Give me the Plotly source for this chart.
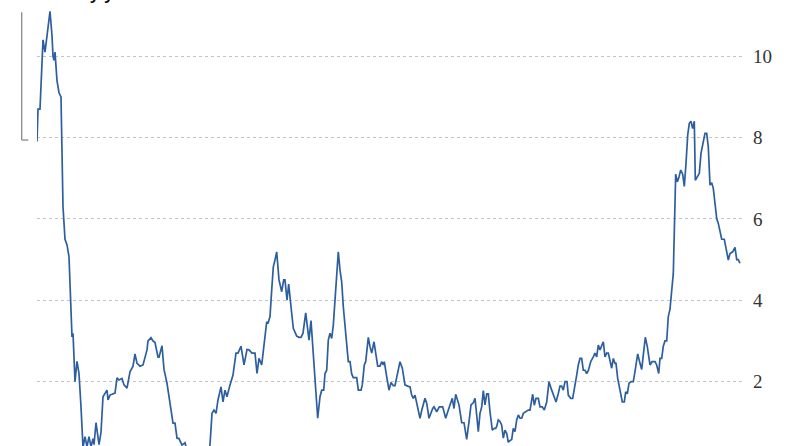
import plotly.graph_objects as go

# period index (relative time position) and inflation values (%)
period = [0, 1, 3, 5, 6, 8, 10, 11, 13, 15, 16, 17, 18, 20, 22, 24, 25, 26, 28, 30,
          32, 35, 36, 38, 40, 42, 44, 46, 48, 50, 52, 54, 56, 57, 59, 62, 64, 66, 70, 71,
          73, 78, 80, 82, 85, 87, 90, 93, 96, 98, 100, 103, 106, 110, 111, 114, 116, 118, 121, 122,
          125, 127, 130, 133, 136, 138, 140, 142, 145, 148, 150, 155, 160, 165, 170, 172, 173, 175, 177, 179,
          181, 184, 186, 188, 190, 193, 196, 199, 201, 204, 205, 207, 210, 212, 215, 218, 220, 222, 224.7, 227,
          229.7, 231, 233, 234.7, 236.3, 238, 239.7, 242, 244.7, 246.7, 248, 250, 251.7, 254, 256.3, 259.7, 262, 264, 266, 268.7,
          270.7, 272, 274, 276.3, 278, 280.7, 283, 284.7, 286.7, 288, 289.7, 291.3, 293, 294.7, 296.3, 298, 299.7, 301.3, 303, 304.7,
          306.3, 308, 309.7, 311.3, 313, 314.7, 316.3, 319.7, 321.3, 324, 325.3, 327.3, 328.7, 331.3, 333, 334.7, 337, 339, 340.7, 343,
          344.7, 346.3, 347.3, 349.7, 352, 354, 356.3, 358, 360.7, 363, 365.3, 368, 370.7, 373, 374.7, 376.3, 378, 379.7, 381.3, 383,
          384.7, 386.3, 388, 389.7, 392, 395.7, 397, 399.7, 402.3, 405.7, 408.7, 411.3, 415.3, 417, 418.7, 422, 424.7, 427, 429.7, 432.3,
          434, 436.3, 438, 439.7, 441.3, 443, 444.7, 446.3, 448, 449.7, 451.3, 453, 455.3, 457.3, 458.7, 459.7, 461.3, 463, 464.7, 466.3,
          468, 469.7, 471.3, 473, 474.7, 476.3, 478, 479.7, 481.3, 483, 484.7, 486.3, 489, 491.3, 493, 494.7, 495.7, 497.3, 499, 501.3,
          503, 505.3, 507.3, 509.7, 512, 514, 516.3, 519, 521.3, 523, 524.7, 526.3, 528, 530, 531.3, 533.7, 535.7, 537.3, 539.7, 541.3,
          543, 544.7, 546.3, 548, 549.7, 551.3, 553.7, 556.3, 558, 559.7, 561.3, 563, 564.7, 566.3, 568, 569.7, 571.3, 573, 574.7, 576.3,
          578, 579, 580.7, 583, 585.3, 587.3, 588.7, 590.3, 592, 594, 596.3, 598, 600.7, 603, 604.7, 606.3, 608.3, 610.3, 613, 615,
          618, 619.7, 621.7, 623, 624.7, 626.3, 628, 629.7, 631.3, 633, 634.7, 636.3, 638.7, 640.3, 642, 643.7, 645.7, 647.3, 649, 650.7,
          652.3, 654, 655.7, 657.3, 658.3, 660.3, 662.3, 664, 666.3, 668, 669.7, 671.3, 673, 674.7, 676.3, 678, 679.7, 681.3, 683, 684.7,
          687.3, 689, 691.3, 693, 695.7, 698, 699.7, 701.3, 703]

inflation = [7.9, 8.7, 8.7, 10.1, 10.4, 10.1, 10.5, 10.7, 11.1, 10.5, 10.0, 9.9, 10.1, 9.4, 9.1, 9.0, 7.3, 6.3, 5.5, 5.36,
             5.07, 3.1, 3.19, 2.0, 2.5, 2.2, 1.38, 0.38, 0.65, 0.4, 0.65, 0.4, 0.6, 0.45, 0.99, 0.45, 0.75, 1.63, 1.79, 1.55,
             1.67, 1.72, 2.09, 2.04, 2.08, 1.92, 1.84, 2.24, 2.38, 2.68, 2.45, 2.38, 2.41, 2.78, 3.0, 3.08, 3.0, 2.96, 2.6, 2.6,
             2.88, 2.3, 1.96, 1.47, 0.98, 0.98, 0.61, 0.6, 0.44, 0.5, 0.3, 0.1, 0.0, -0.1, 0.1, 0.3, 0.45, 1.22, 1.3, 1.22,
             1.55, 1.87, 1.5, 1.79, 1.63, 1.92, 2.16, 2.7, 2.7, 2.87, 2.73, 2.41, 2.79, 2.78, 2.7, 2.7, 2.2, 2.57, 2.41, 2.9,
             3.47, 3.43, 3.6, 4.25, 4.82, 4.99, 5.19, 4.5, 4.21, 4.5, 4.5, 4.0, 4.4, 3.84, 3.31, 3.12, 3.09, 3.09, 3.19, 3.69,
             3.35, 3.02, 3.5, 2.7, 1.87, 1.1, 1.63, 1.79, 1.79, 2.2, 2.28, 3.02, 3.19, 3.06, 3.39, 4.09, 4.58, 5.19, 4.74, 4.45,
             3.84, 3.35, 3.02, 2.49, 2.49, 2.19, 2.1, 2.1, 1.79, 1.79, 1.92, 2.41, 2.49, 3.09, 2.86, 2.7, 2.98, 2.65, 2.38, 2.38,
             2.49, 2.41, 2.49, 2.12, 1.79, 1.98, 1.9, 1.9, 2.24, 2.49, 2.33, 1.92, 1.89, 1.87, 1.67, 1.59, 1.67, 1.47, 1.26, 1.1,
             1.29, 1.43, 1.59, 1.47, 1.1, 1.34, 1.38, 1.26, 1.38, 1.38, 1.1, 1.3, 1.59, 1.34, 1.69, 1.43, 0.99, 0.99, 0.58, 1.07,
             1.43, 1.48, 1.59, 1.18, 0.77, 1.22, 1.38, 1.78, 1.43, 1.7, 1.7, 1.26, 0.81, 0.85, 0.85, 0.9, 1.06, 1.02, 0.93, 0.61,
             0.81, 0.73, 0.51, 0.55, 0.58, 0.85, 0.77, 1.06, 1.18, 1.1, 1.1, 1.22, 1.26, 1.3, 1.3, 1.5, 1.69, 1.42, 1.59, 1.59,
             1.38, 1.38, 1.3, 1.5, 2.0, 1.84, 1.67, 1.5, 1.71, 1.89, 1.89, 1.79, 2.0, 2.0, 1.67, 1.59, 1.59, 1.79, 2.16, 2.41,
             2.57, 2.57, 2.28, 2.28, 2.2, 2.27, 2.49, 2.61, 2.7, 2.61, 2.9, 2.78, 2.87, 2.98, 2.61, 2.7, 2.7, 2.49, 2.33, 2.57,
             2.45, 2.45, 2.08, 1.79, 1.5, 1.5, 1.75, 1.7, 1.96, 2.0, 2.0, 2.25, 2.68, 2.45, 2.3, 2.65, 3.09, 2.86, 2.41, 2.49,
             2.49, 2.41, 2.2, 2.57, 2.57, 2.87, 3.0, 3.0, 3.6, 3.78, 4.17, 4.66, 7.1, 6.91, 7.03, 7.2, 7.1, 6.8, 7.36, 8.06,
             8.35, 8.4, 8.22, 8.4, 6.95, 7.03, 7.12, 7.61, 7.86, 8.1, 8.1, 7.77, 6.83, 6.89, 6.75, 6.38, 6.01, 5.89, 5.68, 5.5,
             5.5, 5.28, 4.99, 5.15, 5.19, 5.3, 5.0, 5.0, 4.91]

tick_values = [2, 4, 6, 8, 10]
tick_labels = ["2", "4", "6", "8", "10"]
unit_label = "% y/y"

fig = go.Figure()
fig.add_trace(go.Scatter(
    x=period, y=inflation, mode="lines",
    line=dict(color="#2d5f9f", width=1.7),
    hoverinfo="skip", showlegend=False,
))

fig.update_layout(
    width=792, height=446,
    margin=dict(l=37, r=50, t=0, b=0),
    paper_bgcolor="white", plot_bgcolor="white",
    hovermode=False,
    xaxis=dict(range=[0, 705], showgrid=False, showticklabels=False,
               zeroline=False, showline=False, ticks=""),
    yaxis=dict(range=[0.418, 11.38], side="right", tickvals=tick_values,
               ticktext=tick_labels, showgrid=True, gridcolor="#c4c4c4",
               griddash="dot", gridwidth=1, zeroline=False, showline=False,
               ticks="", ticklabelstandoff=10,
               tickfont=dict(family="Liberation Serif", size=19, color="#333333")),
    shapes=[
        dict(type="line", xref="paper", yref="paper", x0=-0.0217, x1=-0.0217,
             y0=0.686, y1=0.9724, line=dict(color="#8a8a8a", width=1.3)),
        dict(type="line", xref="paper", yref="paper", x0=-0.0217, x1=-0.0123,
             y0=0.686, y1=0.686, line=dict(color="#8a8a8a", width=1.3)),
    ],
    annotations=[
        dict(text="<b>" + unit_label + "</b>", xref="paper", yref="paper",
             x=0.044, y=1, xanchor="left", yanchor="bottom", yshift=-6,
             showarrow=False,
             font=dict(family="Liberation Sans", size=17, color="#111111")),
    ],
)

# remove the browser's default page margin so the figure sits at the page corner
fig.write_html("out.html", config={"displayModeBar": False},
               post_script="document.body.style.margin='0';document.body.style.padding='0';")
